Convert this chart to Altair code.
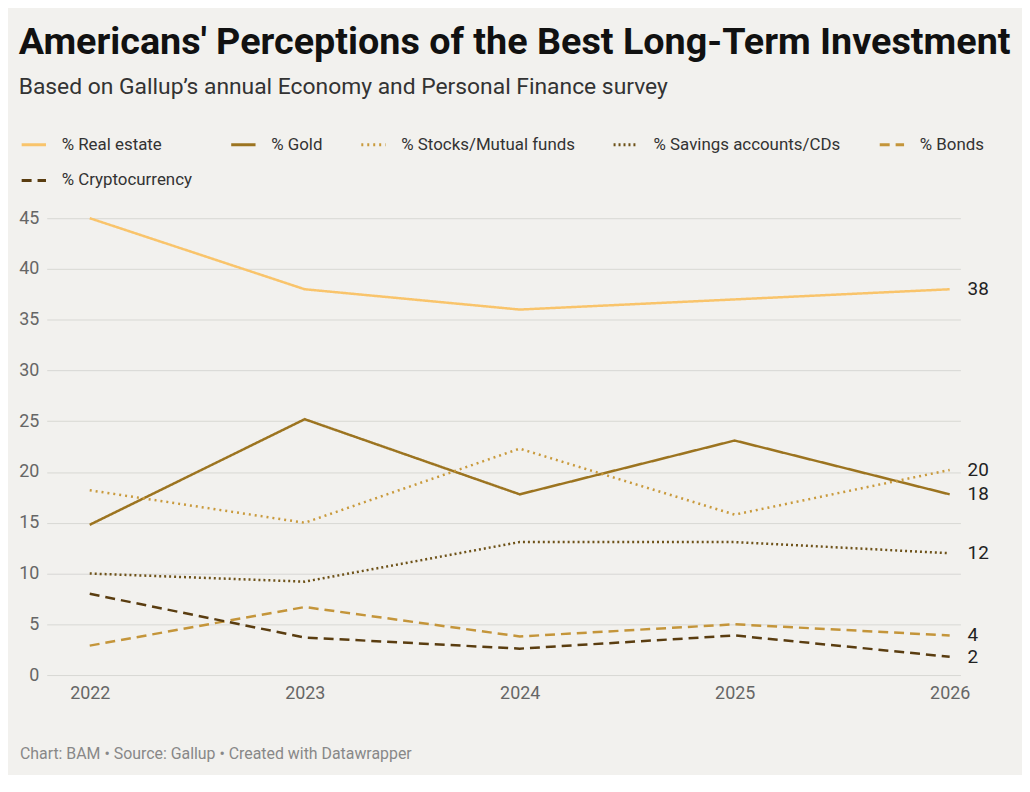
import altair as alt
import pandas as pd

years = [2022, 2023, 2024, 2025, 2026]
series = ["% Real estate", "% Gold", "% Stocks/Mutual funds", "% Savings accounts/CDs", "% Bonds", "% Cryptocurrency"]
real_estate = [45, 38, 36, 37, 38]
gold = [14.8, 25.2, 17.8, 23.1, 17.8]
stocks = [18.2, 15, 22.3, 15.8, 20.2]
savings = [10, 9.2, 13.1, 13.1, 12]
bonds = [2.9, 6.7, 3.8, 5, 3.9]
crypto = [8, 3.7, 2.6, 3.9, 1.8]
end_labels = ["38", "18", "20", "12", "4", "2"]
colors = ["#f9c46b", "#9c7420", "#c99a3c", "#6e5218", "#c4953a", "#5a3d10"]
dashes = [[1, 0], [1, 0], [2, 4], [2, 3], [10, 6], [10, 6]]

rows = []
for s, vals, lab in zip(series, [real_estate, gold, stocks, savings, bonds, crypto], end_labels):
    for y, v in zip(years, vals):
        rows.append({"series": s, "year": y, "value": v, "label": lab if y == 2026 else ""})
df = pd.DataFrame(rows)

color = alt.Color("series:N", scale=alt.Scale(domain=series, range=colors),
                  legend=alt.Legend(title=None, orient="none", legendX=-27, legendY=-88,
                                    direction="horizontal", columns=5, symbolType="stroke",
                                    symbolSize=600, symbolStrokeWidth=3, labelFontSize=17,
                                    labelFont="Roboto", labelColor="#333", columnPadding=32,
                                    rowPadding=14, labelLimit=300, labelOffset=14))
dash = alt.StrokeDash("series:N", scale=alt.Scale(domain=series, range=dashes), legend=None)

base = alt.Chart(df)
lines = base.mark_line(strokeWidth=2.5).encode(
    x=alt.X("year:Q", scale=alt.Scale(domain=[2021.8, 2026.05], nice=False),
            axis=alt.Axis(values=years, format="d", title=None, grid=False, domain=False,
                          ticks=False, labelFontSize=18, labelColor="#666", labelPadding=10,
                          labelFont="Roboto")),
    y=alt.Y("value:Q", scale=alt.Scale(domain=[0, 45], nice=False),
            axis=alt.Axis(values=list(range(0, 50, 5)), title=None, domain=False, ticks=False,
                          labelFontSize=18, labelColor="#666", gridColor="#d8d8d4",
                          labelPadding=8, labelFont="Roboto")),
    color=color, strokeDash=dash, order=alt.value(0),
)
text = base.transform_filter("datum.year == 2026").mark_text(
    align="left", dx=18, fontSize=19, font="Roboto", color="#222").encode(
    x="year:Q", y="value:Q", text="label:N")
footer = alt.Chart(pd.DataFrame({"t": ["Chart: BAM • Source: Gallup • Created with Datawrapper"]})).mark_text(
    align="left", fontSize=16, font="Roboto", color="#888").encode(
    x=alt.value(-27), y=alt.value(540), text="t:N")

chart = alt.layer(lines, text, footer).properties(
    width=920, height=460,
    background="#f2f1ee",
    padding={"left": 10, "top": 14, "right": 10, "bottom": 10},
    title=alt.Title("Americans' Perceptions of the Best Long-Term Investment",
                    subtitle="Based on Gallup’s annual Economy and Personal Finance survey",
                    anchor="start", frame="bounds", fontSize=38, font="Roboto", fontWeight="bold",
                    color="#111", subtitleFontSize=23, subtitleFont="Roboto",
                    subtitleColor="#333", subtitlePadding=14, offset=32),
).configure_view(stroke=None)

chart.save("out.html", embed_options={"renderer": "svg", "actions": False})
